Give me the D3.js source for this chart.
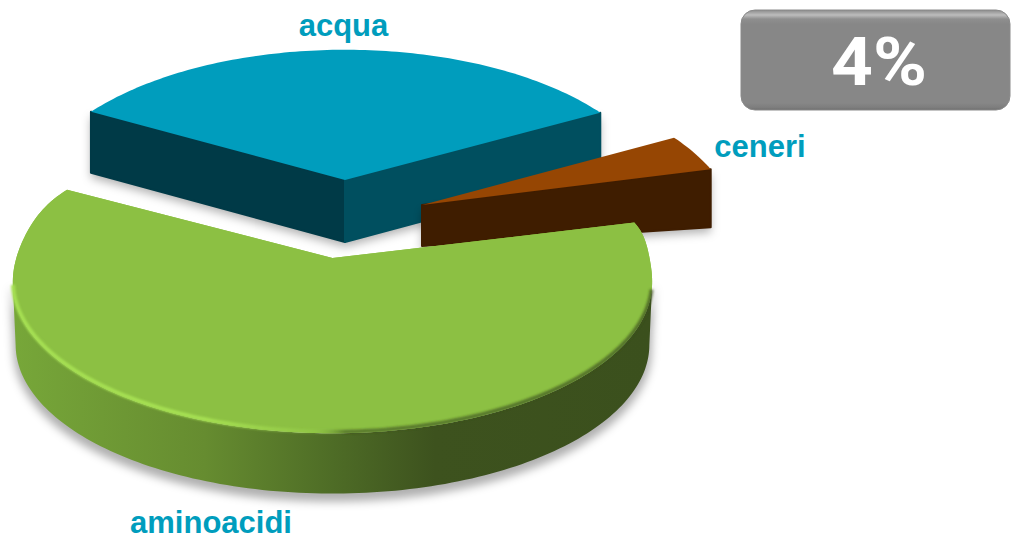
<!DOCTYPE html>
<html><head><meta charset="utf-8">
<script src="https://cdn.jsdelivr.net/npm/d3@7"></script>
<style>html,body{margin:0;padding:0;background:#fff;overflow:hidden}svg{display:block}</style>
</head><body><div id="c"></div>
<script>
const categories = ["acqua","ceneri","aminoacidi"];
const values = [34,4,62];
const highlightValue = 4;
const W=1011,H=540;
const svg=d3.select("#c").append("svg").attr("width",W).attr("height",H);
const defs=svg.append("defs");

const pieGen=d3.pie().sort(null).value(d=>d).startAngle(-61*Math.PI/180).endAngle(299*Math.PI/180);
const arcs=pieGen(values);

// slice layout: apex on screen, wall heights, radii
const layout={
  acqua:{cx:345,cy:180,h:62,hOut:61,A:314,B:152,top:"#009DBD",wall:["#003A47","#004F5F"]},
  ceneri:{cx:422,cy:205,h:41,hOut:58,A:310,B:152,top:"#964603",wall:["#3F1D00","#3F1D00"]},
  aminoacidi:{cx:332.5,cy:258,h:62,A:315,B:146,top:"#8CC043"}
};
const P=0.167;
const projector=L=>(t,r=1,dy=0)=>{
  const s=1/(1+P*r*Math.cos(t));
  return [L.cx+L.A*r*Math.sin(t)*s, L.cy-L.B*r*Math.cos(t)*s+dy];
};
const line=d3.line();
const arcPts=(pr,a,b,dy=0,rf=()=>1)=>{
  const n=Math.max(8,Math.ceil(Math.abs(b-a)/0.02));
  return d3.range(n+1).map(i=>{const t=a+(b-a)*i/n;return pr(t,rf(t),dy);});
};
const topPath=(pr,d,rf)=>line([pr(0,0),...arcPts(pr,d.startAngle,d.endAngle,0,rf)])+"Z";

const fs=defs.append("filter").attr("id","sh").attr("x","-20%").attr("y","-20%").attr("width","140%").attr("height","140%");
fs.append("feGaussianBlur").attr("stdDeviation",5);
const fb=defs.append("filter").attr("id","bl").attr("x","-5%").attr("y","-5%").attr("width","110%").attr("height","110%");
fb.append("feGaussianBlur").attr("stdDeviation",1);
const fe=defs.append("filter").attr("id","soft");
fe.append("feGaussianBlur").attr("stdDeviation",0.6);

const hGrad=(id,x1,x2,stops)=>{
  const g=defs.append("linearGradient").attr("id",id).attr("gradientUnits","userSpaceOnUse")
    .attr("x1",x1).attr("x2",x2).attr("y1",0).attr("y2",0);
  stops.forEach(s=>g.append("stop").attr("offset",s[0]).attr("stop-color",s[1]).attr("stop-opacity",s[2]==null?1:s[2]));
};
hGrad("gWall",13,652,[[0,"#77A739"],[0.14,"#6F9A35"],[0.3,"#668C30"],[0.5,"#4E6C26"],[0.66,"#3D521E"],[1,"#3B501D"]]);
hGrad("gRim",13,652,[[0,"#A6E052",1],[0.3,"#A6E052",1],[0.47,"#A6E052",0.2],[0.52,"#3B501D",0.6],[1,"#3B501D",0.7]]);

["acqua","ceneri","aminoacidi"].forEach(name=>{
  const i=categories.indexOf(name), d=arcs[i], L=layout[name], pr=projector(L), g=svg.append("g");
  const a=d.startAngle,b=d.endAngle;
  if(name==="aminoacidi"){
    const gauss=(t,c,w)=>Math.exp(-Math.pow((t-c)/w,2));
    const rf=t=>1+0.03*gauss(t,a,0.2)+0.045*gauss(t,b,0.32);
    const left=Math.PI*0.554, right=Math.PI*1.446;
    const wallPts=[...arcPts(pr,left,right,0,rf),...arcPts(pr,right,left,L.h,()=>0.992)];
    g.append("path").attr("d",line(wallPts)+"Z").attr("transform","translate(0,6)")
      .attr("fill","#000").attr("fill-opacity",0.3).attr("stroke","#000").attr("stroke-opacity",0.3).attr("stroke-width",3).attr("filter","url(#sh)");
    g.append("path").attr("d",line(wallPts)+"Z").attr("fill","url(#gWall)");
    g.append("path").attr("d",topPath(pr,d,rf)).attr("fill",L.top).attr("filter","url(#soft)");
    g.append("path").attr("d",topPath(pr,d,rf)).attr("fill",L.top);
    g.append("path").attr("d",line(arcPts(pr,Math.PI*0.57,Math.PI*1.44,-1.5,rf))).attr("fill","none")
      .attr("stroke","url(#gRim)").attr("stroke-width",4).attr("filter","url(#bl)");
  } else {
    const wallA=[pr(0,0),pr(0,0,L.h),pr(a,1,L.hOut),pr(a,1)];
    const wallB=[pr(0,0),pr(0,0,L.h),pr(b,1,L.hOut),pr(b,1)];
    const wallsShown=name==="acqua"?[[wallA,L.wall[0]],[wallB,L.wall[1]]]:[[wallB,L.wall[0]]];
    wallsShown.forEach(([w])=>{
      g.append("path").attr("d",line(w)+"Z").attr("transform","translate(0,5)")
       .attr("fill","#000").attr("fill-opacity",0.3).attr("filter","url(#sh)");
    });
    wallsShown.forEach(([w,c])=>{
      g.append("path").attr("d",line(w)+"Z").attr("fill",c).attr("stroke",c).attr("stroke-width",2).attr("stroke-linejoin","round");
    });
    g.append("path").attr("d",topPath(pr,d)).attr("fill",L.top);
  }
});

const labelPos={acqua:[343.5,36],ceneri:[760,157],aminoacidi:[211,533]};
svg.append("g").selectAll("text").data(categories).join("text")
  .attr("x",d=>labelPos[d][0]).attr("y",d=>labelPos[d][1])
  .attr("text-anchor","middle")
  .attr("font-family","'Liberation Sans',Arial,sans-serif").attr("font-weight",700).attr("font-size",31)
  .attr("fill","#009DBD").text(d=>d);

const lg=defs.append("linearGradient").attr("id","btn").attr("x1",0).attr("x2",0).attr("y1",0).attr("y2",1);
[[0,"#8a8a8a"],[0.015,"#9a9a9a"],[0.05,"#bdbdbd"],[0.09,"#8f8f8f"],[0.14,"#878787"],[0.93,"#878787"],[0.98,"#7c7c7c"],[1,"#6b6b6b"]]
 .forEach(s=>lg.append("stop").attr("offset",s[0]).attr("stop-color",s[1]));
const badge=svg.append("g");
badge.append("rect").attr("x",741).attr("y",10).attr("width",269).attr("height",100).attr("rx",14)
  .attr("fill","url(#btn)").attr("stroke","#8a8a8a").attr("stroke-width",1);
badge.append("text").attr("x",831).attr("y",85)
  .attr("textLength",96).attr("lengthAdjust","spacingAndGlyphs")
  .attr("font-family","Roboto,Inter,sans-serif").attr("font-weight",700).attr("font-size",67)
  .attr("fill","#fff").text(highlightValue+"%");
</script></body></html>
